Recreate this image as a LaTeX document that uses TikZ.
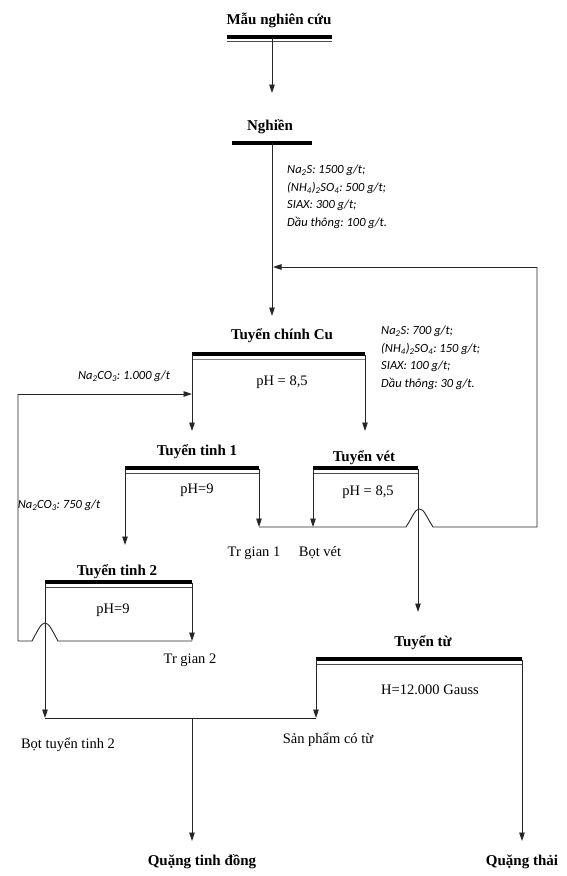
\documentclass[tikz,border=0pt]{standalone}
\usepackage{fontspec}
\setmainfont{Liberation Serif}
\newfontfamily\reagfont{Carlito}
\usetikzlibrary{arrows.meta}
\frenchspacing
\tikzset{
  x=1pt, y=-1pt,
  ttl/.style={font=\bfseries\fontsize{15}{17}\selectfont, inner sep=1pt},
  lbl/.style={font=\fontsize{14.5}{16}\selectfont, inner sep=1pt},
  reag/.style={font=\reagfont\itshape\fontsize{12.5}{17.5}\selectfont, align=left, inner sep=0pt},
  conn/.style={line width=0.9pt, draw=black!85},
  arr/.style={conn, -{Triangle[length=8.5pt,width=5.5pt]}},
  barthick/.style={line width=3.2pt, draw=black},
  barthin/.style={line width=1pt, draw=black!70},
}
\begin{document}
\begin{tikzpicture}
\useasboundingbox (0,0) rectangle (566,876);
% titles
\node[ttl] (mau) at (279,20) {Mẫu nghiên cứu};
\node[ttl] (ng) at (270,127) {Nghiền};
\node[ttl] (cu) at (282,336) {Tuyển chính Cu};
\node[ttl] (t1) at (197,452) {Tuyển tinh 1};
\node[ttl] (tv) at (364,458) {Tuyển vét};
\node[ttl] (t2) at (117,572) {Tuyển tinh 2};
\node[ttl] (tt) at (423,643) {Tuyển từ};
\node[ttl] (qtd) at (202,862) {Quặng tinh đồng};
\node[ttl] (qth) at (522,862) {Quặng thải};
% labels
\node[lbl] (phcu) at (282,382) {pH = 8,5};
\node[lbl] (ph1) at (197,490) {pH=9};
\node[lbl] (phv) at (368,492) {pH = 8,5};
\node[lbl] (ph2) at (113,610) {pH=9};
\node[lbl] (gauss) at (430,690) {H=12.000 Gauss};
\node[lbl] (tg1) at (254,553) {Tr gian 1};
\node[lbl] (bv) at (320,553) {Bọt vét};
\node[lbl] (tg2) at (190,660) {Tr gian 2};
\node[lbl] (btt2) at (68,745) {Bọt tuyển tinh 2};
\node[lbl] (spct) at (328,740) {Sản phẩm có từ};
% reagents
\node[reag, anchor=north west] (r1) at (287,165) {Na\textsubscript{2}S: 1500 g/t;\\(NH\textsubscript{4})\textsubscript{2}SO\textsubscript{4}: 500 g/t;\\SIAX: 300 g/t;\\Dầu thông: 100 g/t.};
\node[reag, anchor=north west] (r2) at (381,326) {Na\textsubscript{2}S: 700 g/t;\\(NH\textsubscript{4})\textsubscript{2}SO\textsubscript{4}: 150 g/t;\\SIAX: 100 g/t;\\Dầu thông: 30 g/t.};
\node[reag] (r3) at (124,376) {Na\textsubscript{2}CO\textsubscript{3}: 1.000 g/t};
\node[reag] (r4) at (59,505) {Na\textsubscript{2}CO\textsubscript{3}: 750 g/t};
% bars
\draw[barthick] (227,37) -- (332,37);
\draw[barthin] (227,41) -- (332,41);
\draw[barthick] (232,143) -- (312,143);
\draw[barthick] (192,354) -- (365,354);
\draw[barthin, draw=black!50, line width=1.3pt] (192,359.5) -- (365,359.5);
\draw[barthick] (125,468) -- (259,468);
\draw[barthin] (125,473.5) -- (259,473.5);
\draw[barthick] (313,468) -- (418,468);
\draw[barthin] (313,473.5) -- (418,473.5);
\draw[barthick] (45,582) -- (192,582);
\draw[barthin] (45,587.5) -- (192,587.5);
\draw[barthick] (316,659) -- (522,659);
\draw[barthin] (316,664) -- (522,664);
% key coordinates
\coordinate (mauB) at (272,38);
\coordinate (ngT) at (272,93);
\coordinate (ngB) at (272,143);
\coordinate (cuIn) at (272,316);
\coordinate (fb) at (273,267);
\coordinate (cuL) at (192,355);
\coordinate (cuR) at (365,355);
\coordinate (t1In) at (192,431);
\coordinate (tvIn) at (365,431);
\coordinate (t1L) at (125,469);
\coordinate (t1R) at (259,469);
\coordinate (t2In) at (125,545);
\coordinate (j1) at (259,527);
\coordinate (tvL) at (313,469);
\coordinate (j1v) at (313,527);
\coordinate (tvR) at (418,469);
\coordinate (ttIn) at (418,612);
\coordinate (t2L) at (45,583);
\coordinate (t2R) at (192,583);
\coordinate (j2) at (192,641);
\coordinate (ttL) at (316,660);
\coordinate (ttR) at (522,660);
\coordinate (j3L) at (45,718);
\coordinate (j3R) at (316,718);
\coordinate (j3M) at (192,718);
\coordinate (qtdIn) at (192,841);
\coordinate (qthIn) at (522,841);
% connectors
\draw[arr] (mauB) -- (ngT);
\draw[arr] (ngB) -- (cuIn);
\draw[arr] (cuL) -- (t1In);
\draw[arr] (cuR) -- (tvIn);
\draw[arr] (t1L) -- (t2In);
\draw[arr] (t1R) -- (j1);
\draw[arr] (tvL) -- (j1v);
\draw[arr] (tvR) -- (ttIn);
\draw[arr] (t2L) -- (j3L);
\draw[arr] (t2R) -- (j2);
\draw[arr] (ttL) -- (j3R);
\draw[arr] (ttR) -- (qthIn);
\draw[arr] (j3M) -- (qtdIn);
\draw[conn] (j3L) -- (j3R);
% recycle 1: Tr gian 1 + Bot vet -> Tuyen chinh Cu
\draw[conn] (j1) -- (406,527) .. controls (413,516) and (415,509) .. (419.5,509) .. controls (424,509) and (426,516) .. (433,527) -- (537,527) -- (537,267);
\draw[arr] (537,267) -- (fb);
% recycle 2: Tr gian 2 -> Tuyen chinh Cu
\draw[conn] (j2) -- (58,641) .. controls (52,630) and (49,623) .. (45,623) .. controls (41,623) and (38,630) .. (32,641) -- (18,641) -- (18,394);
\draw[arr] (18,394) -- (192,394);
\end{tikzpicture}
\end{document}
